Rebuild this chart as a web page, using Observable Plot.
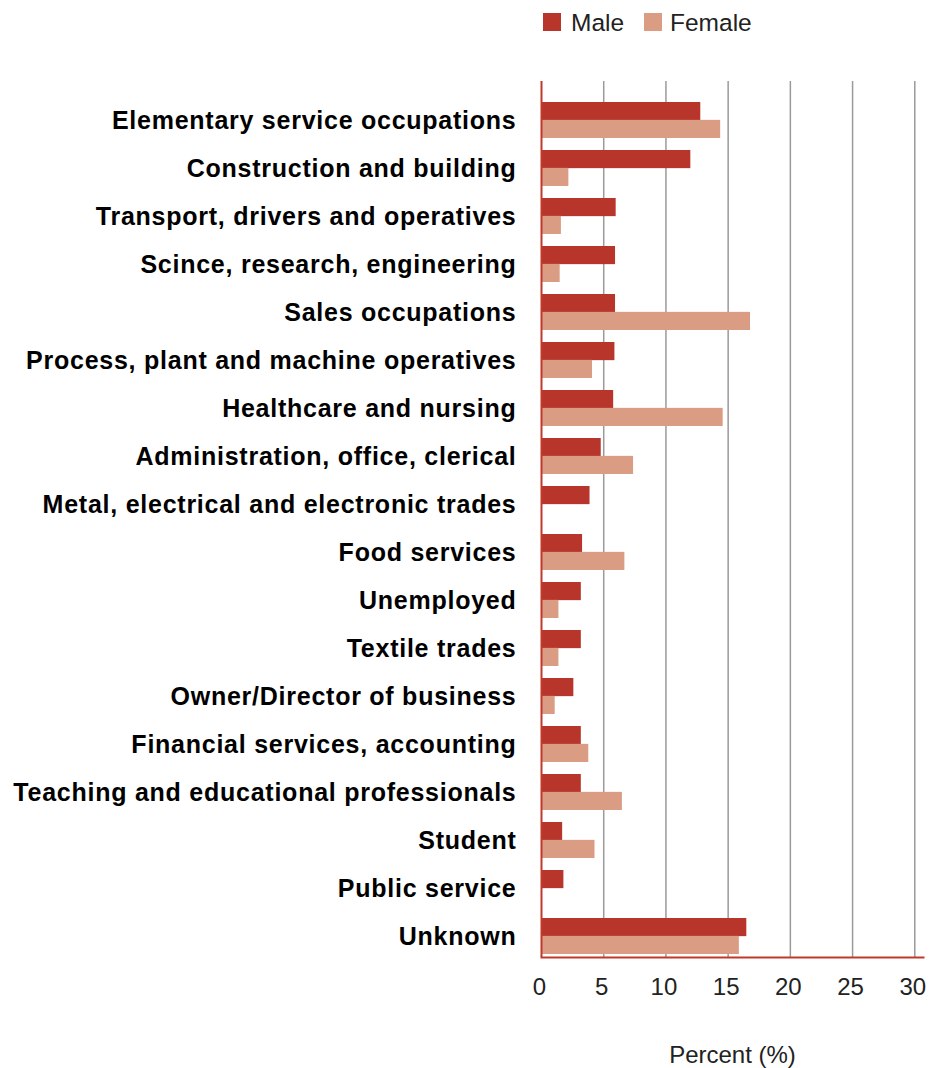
<!DOCTYPE html>
<html>
<head>
<meta charset="utf-8">
<script src="https://cdn.jsdelivr.net/npm/d3@7"></script>
<script src="https://cdn.jsdelivr.net/npm/@observablehq/plot@0.6"></script>
<style>
  body { margin: 0; background: #fff; font-family: "Liberation Sans", Arial, sans-serif; }
  #legend { position: relative; height: 50px; width: 935px; }
  #legend .sw { position: absolute; width: 18px; height: 18px; top: 13px; }
  #legend .lb { position: absolute; top: 11px; font-size: 24.5px; line-height: 24px; color: #222; }
  #chart svg g[aria-label="y-axis tick label"] text { letter-spacing: 0.75px; }
</style>
</head>
<body>
<div id="legend"></div>
<div id="chart"></div>
<script>
const categories = [
  "Elementary service occupations",
  "Construction and building",
  "Transport, drivers and operatives",
  "Scince, research, engineering",
  "Sales occupations",
  "Process, plant and machine operatives",
  "Healthcare and nursing",
  "Administration, office, clerical",
  "Metal, electrical and electronic trades",
  "Food services",
  "Unemployed",
  "Textile trades",
  "Owner/Director of business",
  "Financial services, accounting",
  "Teaching and educational professionals",
  "Student",
  "Public service",
  "Unknown"
];
const male =   [12.8, 12.0, 6.0, 5.95, 5.95, 5.9, 5.8, 4.8, 3.9, 3.3, 3.2, 3.2, 2.6, 3.2, 3.2, 1.7, 1.8, 16.5];
const female = [14.4, 2.2, 1.6, 1.5, 16.8, 4.1, 14.6, 7.4, 0, 6.7, 1.4, 1.4, 1.1, 3.8, 6.5, 4.3, 0, 15.9];
const series = ["Male", "Female"];
const colors = ["#b7352a", "#db9c84"];
const xTicks = [0, 5, 10, 15, 20, 25, 30];

const maleRows = categories.map((c, i) => ({category: c, value: male[i]}));
const femaleRows = categories.map((c, i) => ({category: c, value: female[i]})).filter(d => d.value > 0);

// legend
const legend = document.getElementById("legend");
const legendPos = [[543, 571], [644, 670]];
series.forEach((s, i) => {
  const sw = document.createElement("div");
  sw.className = "sw"; sw.style.left = legendPos[i][0] + "px"; sw.style.background = colors[i];
  const lb = document.createElement("div");
  lb.className = "lb"; lb.style.left = legendPos[i][1] + "px"; lb.textContent = s;
  legend.appendChild(sw); legend.appendChild(lb);
});

const chart = Plot.plot({
  width: 935,
  height: 1018,
  marginLeft: 541,
  marginRight: 12,
  marginTop: 31,
  marginBottom: 111,
  style: {fontFamily: "'Liberation Sans', Arial, sans-serif", background: "#fff"},
  x: {domain: [0, 30.7]},
  y: {domain: categories, range: [50, 905], paddingInner: 0.26, paddingOuter: 0},
  marks: [
    Plot.gridX(xTicks.slice(1), {stroke: "#9a9a9a", strokeOpacity: 1, strokeWidth: 1.5}),
    Plot.barX(maleRows, {y: "category", x: "value", fill: colors[0], insetBottom: 17.85, insetTop: 0}),
    Plot.barX(femaleRows, {y: "category", x: "value", fill: colors[1], insetTop: 17.85, insetBottom: 0}),
    Plot.ruleX([0], {stroke: "#c1392b", strokeWidth: 2}),
    Plot.frame({anchor: "bottom", stroke: "#c1392b", strokeWidth: 2}),
    Plot.axisY({tickSize: 0, tickPadding: 25, fontSize: 25, fontWeight: "bold", color: "#000", label: null}),
    Plot.axisX({ticks: xTicks, tickSize: 0, tickPadding: 20, fontSize: 24, fontWeight: 300, color: "#222",
      label: "Percent (%)", labelAnchor: "center", labelArrow: "none", labelOffset: 105, dx: -2})
  ]
});
document.getElementById("chart").appendChild(chart);
</script>
</body>
</html>
